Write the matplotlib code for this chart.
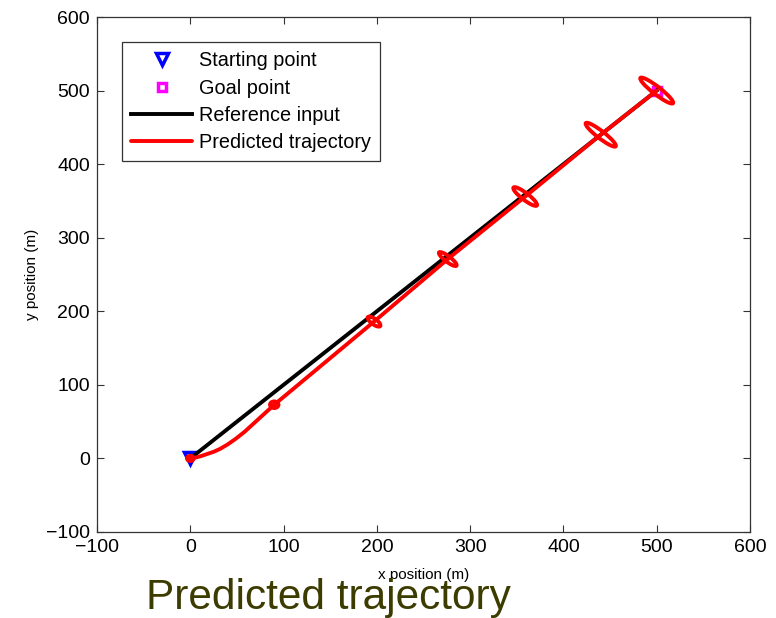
import matplotlib
matplotlib.use("Agg")
import matplotlib.pyplot as plt
from matplotlib.patches import Ellipse

plt.rcParams['font.family'] = ['Liberation Sans', 'DejaVu Sans']

# Data
start_pt = (0, 0)
goal_pt = (500, 500)
ref_x = [0, 500]
ref_y = [0, 500]
pred_x = [0, 5, 11, 18, 25, 32, 40, 49, 58, 90, 197, 276, 359, 440, 500]
pred_y = [0, 1, 3, 6, 9, 13, 19, 27, 36, 73, 186, 271, 356, 440, 500]
ell_x = [0, 90, 197, 276, 359, 440, 500]
ell_y = [0, 73, 186, 271, 356, 440, 500]
ell_major = [7, 9, 18, 26, 35, 45, 49]
ell_minor = [7, 9, 7, 7, 8.5, 9, 9.5]
xticks = [-100, 0, 100, 200, 300, 400, 500, 600]
yticks = [-100, 0, 100, 200, 300, 400, 500, 600]

fig = plt.figure(figsize=(7.76, 6.18), dpi=100)
ax = fig.add_axes([97/776, (618-532)/618, 653/776, 515/618])

ax.plot([start_pt[0]], [start_pt[1]], linestyle='none', marker='v', markersize=9,
        markerfacecolor='none', markeredgecolor='#0000ff', markeredgewidth=2.5,
        label='Starting point', zorder=2)
ax.plot([goal_pt[0]], [goal_pt[1]], linestyle='none', marker='s', markersize=6,
        markerfacecolor='none', markeredgecolor='#ff00ff', markeredgewidth=2.5,
        label='Goal point', zorder=2)
ax.plot(ref_x, ref_y, color='black', linewidth=2.8, label='Reference input', zorder=3)
ax.plot(pred_x, pred_y, color='#ff0000', linewidth=2.8, label='Predicted trajectory',
        zorder=4, solid_capstyle='round', solid_joinstyle='round')
for cx, cy, w, h in zip(ell_x, ell_y, ell_major, ell_minor):
    ax.add_patch(Ellipse((cx, cy), w, h, angle=-45, fill=False, edgecolor='#ff0000',
                         linewidth=2.8, zorder=5))

ax.set_xlim(-100, 600)
ax.set_ylim(-100, 600)
ax.set_xticks(xticks)
ax.set_yticks(yticks)
ax.set_xticklabels([str(v).replace('-', '\u2212') for v in xticks])
ax.set_yticklabels([str(v).replace('-', '\u2212') for v in yticks])
ax.tick_params(direction='in', length=5, width=0.8, top=True, right=True,
               labelsize=14, colors='#333333', labelcolor='black', pad=5)
for s in ax.spines.values():
    s.set_color('#333333')
    s.set_linewidth(0.9)

ax.set_xlabel('x position (m)', fontsize=11, labelpad=9)
ax.set_ylabel('y position (m)', fontsize=11, labelpad=5)

leg = ax.legend(loc='upper left', bbox_to_anchor=(0.038, 0.951), borderaxespad=0,
                fontsize=14.3, numpoints=1, handlelength=3.1, handletextpad=0.35,
                labelspacing=0.42, borderpad=0.45, fancybox=False, framealpha=1,
                edgecolor='#333333')
leg.get_frame().set_linewidth(0.9)

fig.text(328/776, 9/618, 'Predicted trajectory', fontsize=30.5, color='#3c3c00',
         ha='center', va='baseline')

fig.savefig('out.png', dpi=100)
